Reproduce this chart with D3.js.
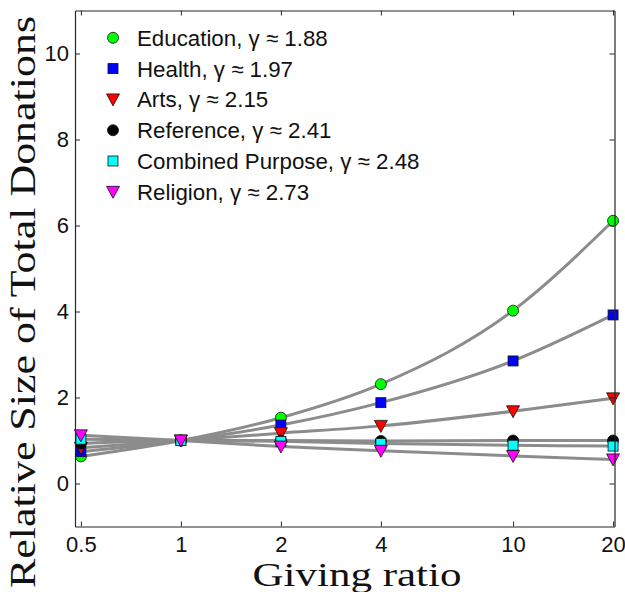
<!DOCTYPE html>
<html>
<head>
<meta charset="utf-8">
<script src="https://cdn.jsdelivr.net/npm/d3@7"></script>
<style>
  html, body { margin: 0; padding: 0; background: #fff; }
  svg { display: block; }
</style>
</head>
<body>
<svg id="chart" width="625" height="592"></svg>
<script>
// Giving ratio values (x) and relative size of total donations per purpose
const givingRatio = [0.5, 1, 2, 4, 10, 20];
const education   = [0.63, 1, 1.53, 2.31, 4.02, 6.11];
const health      = [0.74, 1, 1.36, 1.88, 2.85, 3.92];
const arts        = [0.83, 1, 1.17, 1.34, 1.68, 1.98];
const reference   = [0.93, 1, 1.00, 0.99, 1.00, 1.00];
const combined    = [1.03, 1, 0.98, 0.93, 0.89, 0.87];
const religion    = [1.12, 1, 0.86, 0.76, 0.64, 0.56];

const seriesNames  = ["Education", "Health", "Arts", "Reference", "Combined Purpose", "Religion"];
const gammaValues  = ["1.88", "1.97", "2.15", "2.41", "2.48", "2.73"];
const seriesValues = [education, health, arts, reference, combined, religion];

const xTicks = [0.5, 1, 2, 4, 10, 20];
const yTicks = [0, 2, 4, 6, 8, 10];

// marker shape and fill for each series
const markerShapes = ["circle", "square", "triangleDown", "circle", "square", "triangleDown"];
const markerColors = ["#00ff00", "#0000ff", "#ff0000", "#000000", "#00ffff", "#ff00ff"];

const series = seriesNames.map((name, i) => ({
  name, gamma: gammaValues[i], shape: markerShapes[i], color: markerColors[i],
  points: givingRatio.map((g, j) => ({ x: g, y: seriesValues[i][j] }))
}));

const margin = { left: 75, right: 10.5, top: 10.5, bottom: 65.5 };
const W = 625, H = 592;
const svg = d3.select("#chart");

const x = d3.scaleLog().domain([0.48, 20.2]).range([margin.left, W - margin.right]);
const y = d3.scaleLinear().domain([-1, 11]).range([H - margin.bottom, margin.top]);

const axisColor = "#262626";
const tickFont = "Liberation Sans, Arial, Helvetica, sans-serif";

// fitted curves
const line = d3.line()
  .x(d => x(d.x))
  .y(d => y(d.y))
  .curve(d3.curveMonotoneX);

svg.append("g").selectAll("path")
  .data(series)
  .join("path")
  .attr("d", d => line(d.points))
  .attr("fill", "none")
  .attr("stroke", "#8c8c8c")
  .attr("stroke-width", 3)
  .attr("stroke-linecap", "round");

// marker drawing helper
function drawMarker(sel, shape, color) {
  if (shape === "circle") {
    sel.append("circle").attr("r", 5.5);
  } else if (shape === "square") {
    sel.append("rect").attr("x", -5).attr("y", -5).attr("width", 10).attr("height", 10);
  } else {
    sel.append("path").attr("d", "M-6.5,-5.5L6.5,-5.5L0,6.5Z");
  }
  sel.selectAll("*")
    .attr("fill", color)
    .attr("stroke", "#111")
    .attr("stroke-width", 0.8);
}

const markerLayer = svg.append("g");
series.forEach(s => {
  s.points.forEach(p => {
    const g = markerLayer.append("g")
      .attr("transform", `translate(${x(p.x)},${y(p.y)})`);
    drawMarker(g, s.shape, s.color);
  });
});

// axes frame with inward ticks on all sides
const axisB = d3.axisBottom(x).tickValues(xTicks).tickFormat(d3.format("")).tickSizeInner(-5).tickSizeOuter(0).tickPadding(10);
const axisT = d3.axisTop(x).tickValues(xTicks).tickFormat("").tickSizeInner(-5).tickSizeOuter(0);
const axisL = d3.axisLeft(y).tickValues(yTicks).tickFormat(d3.format("d")).tickSizeInner(-5).tickSizeOuter(0).tickPadding(6);
const axisR = d3.axisRight(y).tickValues(yTicks).tickFormat("").tickSizeInner(-5).tickSizeOuter(0);

function styleAxis(g) {
  g.selectAll(".domain").attr("stroke", axisColor).attr("stroke-width", 1.2);
  g.selectAll(".tick line").attr("stroke", axisColor).attr("stroke-width", 1);
  g.selectAll(".tick text").attr("fill", "#111").attr("font-family", tickFont).attr("font-size", 22);
}

svg.append("g").attr("transform", `translate(0,${H - margin.bottom})`).call(axisB).call(styleAxis);
svg.append("g").attr("transform", `translate(0,${margin.top})`).call(axisT).call(styleAxis);
svg.append("g").attr("transform", `translate(${margin.left},0)`).call(axisL).call(styleAxis);
svg.append("g").attr("transform", `translate(${W - margin.right},0)`).call(axisR).call(styleAxis);

// legend
const legend = svg.append("g");
series.forEach((s, i) => {
  const row = legend.append("g").attr("transform", `translate(113,${37.8 + i * 30.8})`);
  drawMarker(row, s.shape, s.color);
  row.append("text")
    .attr("x", 24)
    .attr("y", 8)
    .attr("font-family", tickFont)
    .attr("font-size", 22.3)
    .attr("fill", "#111")
    .text(`${s.name}, \u03b3 \u2248 ${s.gamma}`);
});

// axis titles
const titleFont = "Liberation Serif, 'Times New Roman', serif";
svg.append("text")
  .attr("x", 357)
  .attr("y", 586)
  .attr("text-anchor", "middle")
  .attr("font-family", titleFont)
  .attr("font-size", 33)
  .attr("fill", "#111")
  .attr("textLength", 209)
  .attr("lengthAdjust", "spacingAndGlyphs")
  .text("Giving ratio");

svg.append("text")
  .attr("transform", "translate(35,302) rotate(-90)")
  .attr("text-anchor", "middle")
  .attr("font-family", titleFont)
  .attr("font-size", 35)
  .attr("fill", "#111")
  .attr("textLength", 572)
  .attr("lengthAdjust", "spacingAndGlyphs")
  .text("Relative Size of Total Donations");
</script>
</body>
</html>
